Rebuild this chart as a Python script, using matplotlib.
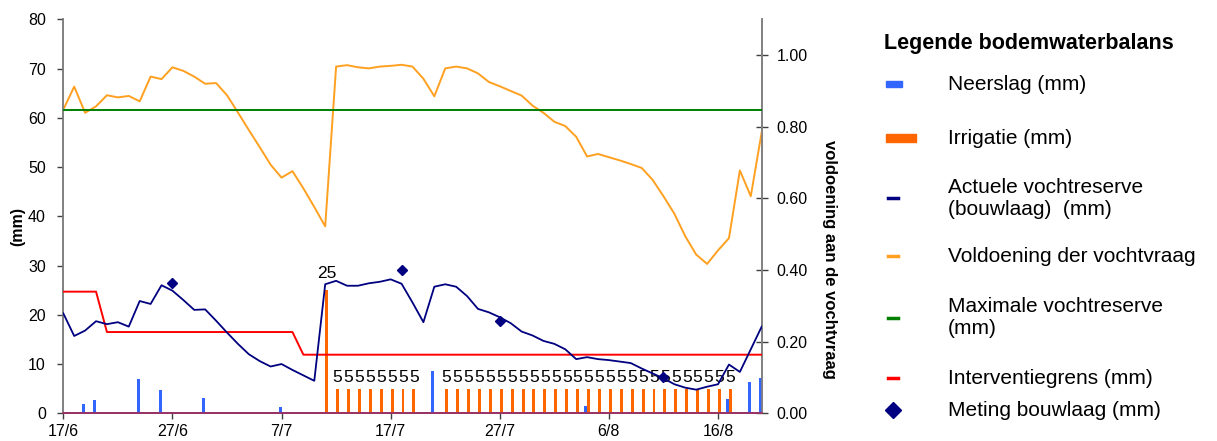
import matplotlib
matplotlib.use('Agg')
import matplotlib.pyplot as plt
from matplotlib.lines import Line2D
from matplotlib.patches import Rectangle

plt.rcParams['font.family'] = ['Liberation Sans', 'DejaVu Sans']

# ---------------- data ----------------
tick_days = [0, 10, 20, 30, 40, 50, 60]
tick_labels = ['17/6', '27/6', '7/7', '17/7', '27/7', '6/8', '16/8']

days = list(range(65))  # 17/6 .. 20/8

vochtreserve = [20.3, 15.7, 16.8, 18.7, 18.1, 18.5, 17.6, 22.8, 22.2, 26.0,
                24.9, 23.0, 21.0, 21.1, 18.8, 16.4, 14.1, 12.0, 10.6, 9.5,
                10.0, 8.8, 7.7, 6.6, 26.2, 26.9, 25.9, 25.9, 26.4, 26.7,
                27.2, 26.3, 22.5, 18.5, 25.7, 26.2, 25.7, 23.8, 21.2, 20.5,
                19.5, 18.3, 16.6, 15.8, 14.7, 14.1, 13.0, 11.0, 11.4, 11.0,
                10.8, 10.5, 10.2, 9.1, 8.1, 7.1, 5.9, 5.2, 4.8, 5.4,
                5.9, 9.9, 8.4, 13.0, 17.6]

voldoening = [0.848, 0.912, 0.839, 0.857, 0.888, 0.882, 0.886, 0.871, 0.940, 0.933,
              0.966, 0.956, 0.940, 0.920, 0.922, 0.888, 0.840, 0.791, 0.743, 0.694,
              0.658, 0.676, 0.628, 0.576, 0.522, 0.968, 0.972, 0.966, 0.963, 0.968,
              0.970, 0.973, 0.968, 0.934, 0.885, 0.963, 0.968, 0.963, 0.949, 0.925,
              0.913, 0.900, 0.887, 0.859, 0.839, 0.814, 0.802, 0.772, 0.717, 0.724,
              0.715, 0.706, 0.696, 0.685, 0.652, 0.606, 0.557, 0.494, 0.443, 0.417,
              0.455, 0.489, 0.678, 0.606, 0.785]

max_reserve_days = [0, 64]
max_reserve = [61.5, 61.5]

interventie_days = [0, 3, 4, 21, 22, 64]
interventie = [24.7, 24.7, 16.5, 16.5, 11.9, 11.9]

neerslag_days = [2, 3, 7, 9, 13, 20, 34, 48, 61, 63, 64]
neerslag = [1.8, 2.6, 7.0, 4.7, 3.2, 1.3, 8.5, 1.5, 3.0, 6.4, 7.2]

irrigatie_days = [24] + list(range(25, 33)) + list(range(35, 62))
irrigatie = [25] + [5] * 8 + [5] * 27

meting_days = [10, 31, 40, 55]
meting = [26.5, 29.1, 18.7, 7.3]

# ---------------- styles ----------------
C_NEER = '#3366FF'
C_IRR = '#FF6600'
C_RES = '#000080'
C_VOL = '#FFA020'
C_MAX = '#008000'
C_INT = '#FF0000'
C_AX = '#808080'

W, H = 1217, 441
fig = plt.figure(figsize=(W / 100, H / 100), dpi=100)
L, R, B, T = 63.3, 761.7, 413.3, 19.3
ax = fig.add_axes([L / W, 1 - B / H, (R - L) / W, (B - T) / H])
ax2 = ax.twinx()

bw = 0.27
off = 0.13
ax.bar([d - off for d in neerslag_days], neerslag, width=bw, color=C_NEER, zorder=2)
bars = ax.bar([d + off for d in irrigatie_days], irrigatie, width=bw, color=C_IRR, zorder=2)
for rect, v in zip(bars, irrigatie):
    pad = 6.5 if v > 10 else 3.0
    ax.annotate(f'{v:g}', (rect.get_x() + rect.get_width() / 2, v),
                xytext=(0, pad), textcoords='offset points',
                ha='center', va='bottom', fontsize=12.5, color='black', zorder=3)

ax.plot(interventie_days, interventie, color=C_INT, lw=1.4, zorder=4)
ax.plot(max_reserve_days, max_reserve, color=C_MAX, lw=1.4, zorder=4)
ax.plot(days, vochtreserve, color=C_RES, lw=1.3, zorder=5)
ax.plot(meting_days, meting, linestyle='none', marker='D', ms=5.5, color=C_RES, zorder=6)
ax2.plot(days, voldoening, color=C_VOL, lw=1.4, zorder=4)

ax.set_xlim(0, 64)
ax.set_ylim(0, 80)
ax2.set_ylim(0, 1.1)
ax.set_yticks(range(0, 81, 10))
ax2.set_yticks([0, 0.2, 0.4, 0.6, 0.8, 1.0])
ax2.set_yticklabels(['0.00', '0.20', '0.40', '0.60', '0.80', '1.00'])
ax.set_xticks(tick_days)
ax.set_xticklabels(tick_labels)

for a in (ax, ax2):
    a.spines['top'].set_visible(False)
    a.spines['left'].set_color(C_AX)
    a.spines['right'].set_color(C_AX)
    a.spines['bottom'].set_color('#993366')
    a.spines['left'].set_linewidth(1.2)
    a.spines['right'].set_linewidth(1.2)
    a.spines['bottom'].set_linewidth(1.3)
ax.set_zorder(ax2.get_zorder() + 1)
ax.patch.set_visible(False)

ax.tick_params(axis='y', direction='out', length=4.5, width=1, color='#404040',
               labelsize=11.5, pad=8)
ax.tick_params(axis='x', direction='out', length=4.5, width=1, color='#404040',
               labelsize=11.5, pad=3)
ax2.tick_params(axis='y', direction='inout', length=9, width=1, color='#404040',
                labelsize=11.5, pad=6)

fig.text(18 / W, 1 - 227 / H, '(mm)', rotation=90, ha='center', va='center',
         fontsize=11.5, fontweight='bold')
fig.text(829 / W, 1 - 259 / H, 'voldoening aan de vochtvraag', rotation=-90,
         ha='center', va='center', fontsize=12, fontweight='bold')

# ---------------- legend ----------------
def fx(px):
    return px / W

def fy(py):
    return 1 - py / H

fig.text(fx(884), fy(44), 'Legende bodemwaterbalans', fontsize=15.5,
         fontweight='bold', ha='left', va='center')

tx = 948
items = [
    ('rect', C_NEER, 84, 'Neerslag (mm)', 16, 6),
    ('rect', C_IRR, 138, 'Irrigatie (mm)', 30, 8),
    ('line', C_RES, 198, 'Actuele vochtreserve\n(bouwlaag)  (mm)', None, None),
    ('line', C_VOL, 256, 'Voldoening der vochtvraag', None, None),
    ('line', C_MAX, 318, 'Maximale vochtreserve\n(mm)', None, None),
    ('line', C_INT, 378, 'Interventiegrens (mm)', None, None),
    ('diam', C_RES, 410, 'Meting bouwlaag (mm)', None, None),
]
for kind, col, py, label, w, h in items:
    if kind == 'rect':
        fig.patches.append(Rectangle((fx(886), fy(py + h / 2)), w / W, h / H,
                                     transform=fig.transFigure, color=col))
    elif kind == 'line':
        fig.lines.append(Line2D([fx(888), fx(898)], [fy(py), fy(py)],
                                transform=fig.transFigure, color=col, lw=2.5))
    else:
        fig.lines.append(Line2D([fx(893)], [fy(py)], transform=fig.transFigure,
                                marker='D', ms=8, color=col, linestyle='none'))
    fig.text(fx(tx), fy(py), label, fontsize=15, ha='left', va='center',
             linespacing=1.2)

fig.savefig('out.png', dpi=100)
